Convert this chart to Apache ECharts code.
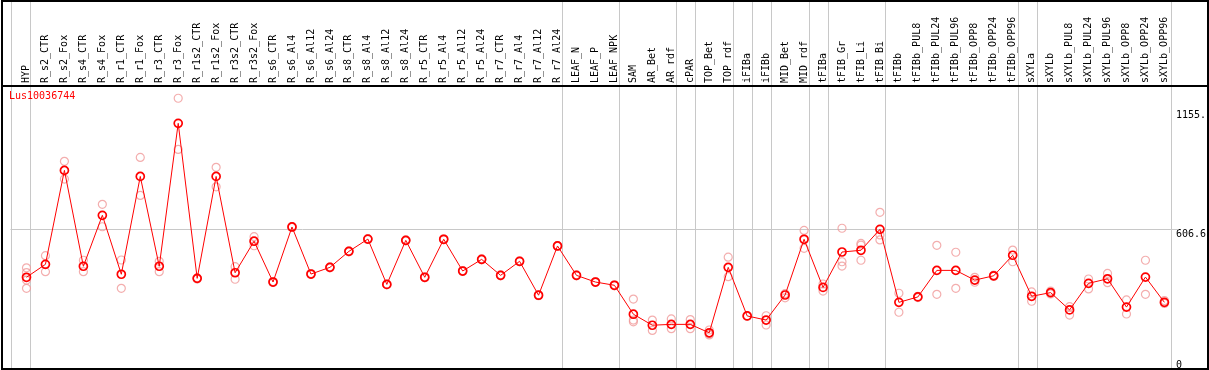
<!DOCTYPE html>
<html>
<head>
<meta charset="utf-8">
<script src="https://cdn.jsdelivr.net/npm/echarts@6/dist/echarts.min.js"></script>
<style>
html,body{margin:0;padding:0;background:#fff;}
#chart{width:1209px;height:370px;}
</style>
</head>
<body>
<div id="chart"></div>
<script>
const seriesName = 'Lus10036744';
const categories = ['HYP','R_s2_CTR','R_s2_Fox','R_s4_CTR','R_s4_Fox','R_r1_CTR','R_r1_Fox','R_r3_CTR','R_r3_Fox','R_r1s2_CTR','R_r1s2_Fox','R_r3s2_CTR','R_r3s2_Fox','R_s6_CTR','R_s6_Al4','R_s6_Al12','R_s6_Al24','R_s8_CTR','R_s8_Al4','R_s8_Al12','R_s8_Al24','R_r5_CTR','R_r5_Al4','R_r5_Al12','R_r5_Al24','R_r7_CTR','R_r7_Al4','R_r7_Al12','R_r7_Al24','LEAF_N','LEAF_P','LEAF_NPK','SAM','AR_Bet','AR_rdf','cPAR','TOP_Bet','TOP_rdf','iFIBa','iFIBb','MID_Bet','MID_rdf','tFIBa','tFIB_Gr','tFIB_Li','tFIB_Bi','tFIBb','tFIBb_PUL8','tFIBb_PUL24','tFIBb_PUL96','tFIBb_OPP8','tFIBb_OPP24','tFIBb_OPP96','sXYLa','sXYLb','sXYLb_PUL8','sXYLb_PUL24','sXYLb_PUL96','sXYLb_OPP8','sXYLb_OPP24','sXYLb_OPP96'];
const means = [383,443,878,434,670,397,850,434,1096,378,850,404,550,361,616,398,429,503,560,350,554,383,559,412,466,392,457,300,528,392,361,346,212,161,165,165,126,429,204,185,301,559,336,500,508,605,267,292,415,415,370,390,485,295,312,232,355,376,245,384,267];
const replicates = [
  [427,405,370,332],[483,409],[920,838],[462,409],[721,617],[463,332],[938,762],[457,409],[1212,975],[380,375],
  [892,802],[432,374],[571,529],[363,359],[618,614],[400,396],[431,427],[505,501],[562,558],[352,348],
  [556,552],[385,381],[561,557],[414,410],[468,464],[394,390],[459,455],[302,298],[530,526],[394,390],
  [363,359],[348,344],[282,185,177],[185,137],[190,145],[187,145],[139,116,122],[476,386],[206,202],[205,162],
  [307,288],[600,517],[352,319],[610,455,435],[540,532,462],[684,579,556],[309,221],[295,289],[531,304],[499,332],
  [383,360],[393,387],[509,455],[315,272],[319,306],[247,208],[375,329],[401,358],[278,213],[462,304],[275,262]
];
const separatorAfter = [-1,0,28,31,34,35,37,38,39,41,42,45,52,53,60];
const yTickValues = [0,606.6,1155.3];
const yTickLabels = ['0','606.6','1155.'];
const gridLineValues = [606.6];
const yMax = 1273.4;

const chart = echarts.init(document.getElementById('chart'));
const mono = 'DejaVu Sans Mono';

const repData = [];
replicates.forEach((arr, i) => arr.forEach(v => repData.push([i, v])));

chart.setOption({
  animation: false,
  title: {text: seriesName, left: 9, top: 91, padding: 0,
    textStyle: {color: '#ff0000', fontSize: 10, fontWeight: 'normal', fontFamily: mono}},
  grid: [
    {left: 17, right: 33, top: 85, bottom: 10},
    {left: 10.5, right: 38.5, top: 85, bottom: 10}
  ],
  xAxis: [
    {type: 'category', gridIndex: 0, data: categories, position: 'top', boundaryGap: true,
     axisLine: {show: false}, axisTick: {show: false}, splitLine: {show: false},
     axisLabel: {rotate: 90, interval: 0, margin: 2, fontFamily: mono, fontSize: 10, color: '#000'}},
    {type: 'value', gridIndex: 1, min: 0, max: 61, show: false}
  ],
  yAxis: [
    {type: 'value', gridIndex: 0, min: 0, max: yMax, position: 'right',
     axisLine: {show: false}, axisTick: {show: false}, splitLine: {show: false},
     axisLabel: {customValues: yTickValues, margin: 2, verticalAlign: 'top', align: 'left',
       fontFamily: mono, fontSize: 10, color: '#000',
       formatter: v => { const k = yTickValues.indexOf(v); return k >= 0 ? yTickLabels[k] : ''; }}},
    {type: 'value', gridIndex: 1, min: 0, max: yMax, show: false}
  ],
  series: [
    {type: 'custom', xAxisIndex: 1, yAxisIndex: 1, silent: true, z: 1,
     data: separatorAfter.map(k => [k + 1]),
     renderItem: (params, api) => {
       const x = Math.round(api.coord([api.value(0), 0])[0]) + 0.5;
       return {type: 'line', shape: {x1: x, y1: 0, x2: x, y2: api.getHeight()},
         style: {stroke: '#c8c8c8', lineWidth: 1}};
     }},
    {type: 'custom', xAxisIndex: 1, yAxisIndex: 1, silent: true, z: 1,
     data: gridLineValues.map(v => [0, v]),
     renderItem: (params, api) => {
       const p0 = api.coord([0, api.value(1)]);
       const p1 = api.coord([61, api.value(1)]);
       const y = Math.round(p0[1]) + 0.5;
       return {type: 'line', shape: {x1: p0[0], y1: y, x2: p1[0] + 8, y2: y},
         style: {stroke: '#c8c8c8', lineWidth: 1}};
     }},
    {type: 'scatter', xAxisIndex: 0, yAxisIndex: 0, data: repData, z: 2,
     symbol: 'circle', symbolSize: 8,
     itemStyle: {color: 'rgba(0,0,0,0)', borderColor: '#f09a9a', borderWidth: 1.2}},
    {type: 'line', name: seriesName, xAxisIndex: 0, yAxisIndex: 0, data: means, z: 3,
     symbol: 'circle', symbolSize: 8, showAllSymbol: true,
     lineStyle: {color: '#ff0000', width: 1},
     itemStyle: {color: 'rgba(0,0,0,0)', borderColor: '#ff0000', borderWidth: 1.7}}
  ],
  graphic: [
    {type: 'rect', z: 100, silent: true, shape: {x: 2, y: 1, width: 1206, height: 368},
     style: {fill: 'none', stroke: '#000', lineWidth: 2}},
    {type: 'line', z: 100, silent: true, shape: {x1: 2, y1: 86, x2: 1208, y2: 86},
     style: {stroke: '#000', lineWidth: 2}}
  ]
});
</script>
</body>
</html>
